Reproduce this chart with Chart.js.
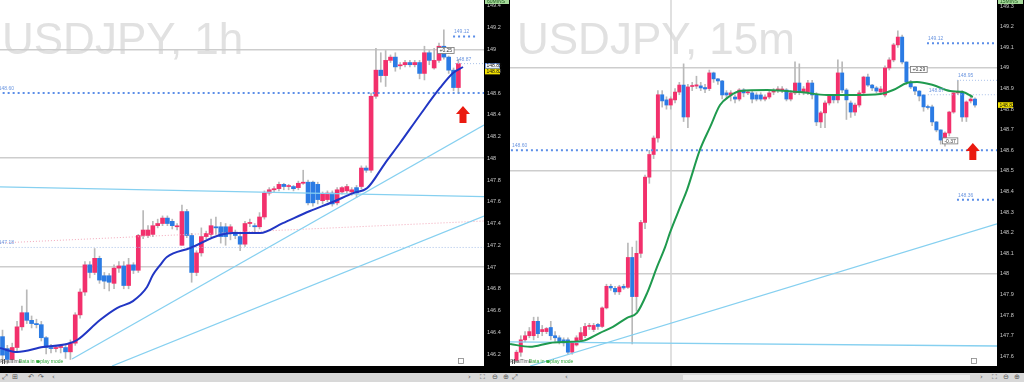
<!DOCTYPE html>
<html>
<head>
<meta charset="utf-8">
<script src="https://cdn.jsdelivr.net/npm/chart.js@4.4.1/dist/chart.umd.min.js"></script>
<style>
  html, body { margin: 0; padding: 0; background: #fff; }
  body { width: 1024px; height: 382px; position: relative; overflow: hidden; font-family: "Liberation Sans", Arial, sans-serif; }
  canvas { position: absolute; top: 0; }
  #h1 { left: 0; }
  #m15 { left: 510px; }
  #toolbar { position: absolute; left: 0; top: 373px; width: 1024px; height: 9px; background: #d8d8d8; }
  #toolbar span { position: absolute; top: 0; font: 7px/9px "DejaVu Sans", sans-serif; color: #555; }
  #thumb { position: absolute; top: 2px; left: 683px; width: 287px; height: 5px; background: #eeeeee; }
</style>
</head>
<body>
<canvas id="h1" width="510" height="373" style="width:510px;height:373px"></canvas>
<canvas id="m15" width="514" height="373" style="width:514px;height:373px"></canvas>
<div id="toolbar">
  <span style="left:2px">⤢</span><span style="left:12px">⊞</span><span style="left:28px">↶</span><span style="left:38px">↷</span><span style="left:52px">‹</span>
  <span style="left:468px">›</span><span style="left:480px">⛶</span><span style="left:492px">⊖</span><span style="left:503px">⊕</span>
  <span style="left:512px">⤢</span><span style="left:565px">‹</span><div id="thumb"></div>
  <span style="left:980px">›</span><span style="left:992px">⛶</span><span style="left:1003px">⊖</span><span style="left:1014px">⊕</span>
</div>
<script>
// USDJPY 1h candles (one per hour slot)
const h1Open  = [146.36,146.25,146.15,146.26,146.45,146.58,146.51,146.48,146.47,146.35,146.26,146.25,146.26,146.26,146.22,146.30,146.56,146.77,147.02,146.95,
                 147.08,146.92,146.92,146.85,146.99,147.01,146.83,147.02,146.97,147.29,147.29,147.30,147.38,147.40,147.45,147.42,147.37,147.20,147.51,147.29,
                 146.95,147.13,147.28,147.30,147.37,147.37,147.37,147.32,147.32,147.28,147.21,147.40,147.38,147.37,147.46,147.68,147.71,147.72,147.76,147.74,
                 147.74,147.73,147.77,147.78,147.78,147.76,147.61,147.62,147.68,147.59,147.69,147.70,147.69,147.73,147.74,147.91,147.89,148.57,148.81,148.76,
                 148.90,148.93,148.85,148.86,148.88,148.86,148.88,148.78,148.97,148.83,148.90,149.03,148.93,148.81,148.65];
const h1High  = [146.42,146.28,146.30,146.50,146.64,146.79,146.55,146.52,146.50,146.36,146.29,146.28,146.29,146.28,146.33,146.58,146.80,147.05,147.05,147.17,
                 147.10,146.95,146.94,147.02,147.05,147.05,147.08,147.04,147.30,147.52,147.38,147.42,147.44,147.47,147.47,147.44,147.40,147.57,147.53,147.31,
                 147.15,147.36,147.33,147.44,147.46,147.41,147.40,147.39,147.34,147.30,147.42,147.44,147.40,147.50,147.70,147.73,147.74,147.78,147.77,147.76,
                 147.75,147.79,147.89,147.80,147.79,147.78,147.69,147.70,147.70,147.73,147.74,147.76,147.73,147.75,147.93,147.93,148.60,149.01,148.97,148.99,
                 148.95,148.97,148.88,148.90,148.90,148.90,148.90,149.03,148.99,149.01,149.06,149.18,148.94,148.83,148.91];
const h1Low   = [146.14,146.11,146.12,146.22,146.42,146.48,146.44,146.44,146.32,146.20,146.21,146.22,146.21,146.16,146.15,146.28,146.53,146.74,146.90,146.93,
                 146.85,146.80,146.78,146.80,146.95,146.80,146.80,146.94,146.95,147.26,147.27,147.28,147.36,147.38,147.38,147.35,147.34,147.20,147.27,146.86,
                 146.92,147.10,147.26,147.28,147.30,147.22,147.20,147.25,147.26,147.15,147.19,147.37,147.32,147.35,147.44,147.66,147.69,147.70,147.71,147.71,
                 147.70,147.71,147.76,147.57,147.56,147.58,147.58,147.60,147.56,147.57,147.67,147.68,147.66,147.64,147.72,147.87,147.87,148.55,148.70,148.66,
                 148.88,148.80,148.82,148.84,148.84,148.84,148.73,148.72,148.86,148.82,148.88,148.91,148.78,148.62,148.60];
const h1Close = [146.19,146.15,146.26,146.45,146.58,146.51,146.48,146.47,146.35,146.26,146.25,146.26,146.26,146.22,146.30,146.56,146.77,147.02,146.95,147.08,
                 146.88,146.87,146.86,146.99,147.01,146.83,147.02,146.97,147.29,147.34,147.34,147.38,147.40,147.45,147.40,147.38,147.37,147.51,147.29,146.95,
                 147.13,147.28,147.31,147.38,147.36,147.28,147.28,147.37,147.29,147.21,147.40,147.41,147.37,147.46,147.68,147.71,147.72,147.76,147.74,147.74,
                 147.72,147.77,147.78,147.59,147.59,147.62,147.67,147.68,147.58,147.71,147.73,147.74,147.71,147.68,147.91,147.89,148.57,148.81,148.76,148.90,
                 148.93,148.84,148.85,148.88,148.86,148.88,148.78,148.97,148.90,148.90,149.03,148.93,148.81,148.65,148.87];
// blue average (slot, price)
const h1AvgSlot  = [-0.5, 3.0, 8.35, 13.3, 15.4, 20.1, 23.6, 26.9, 29.8, 31.0, 32.5, 33.9, 38.7, 44.8, 47.5, 53.1, 57.8, 63.4, 68.1, 72.3, 75.2, 78.9, 81.96, 86.08, 90.2, 92.89, 94.95];
const h1AvgPrice = [146.255, 146.218, 146.264, 146.292, 146.329, 146.513, 146.623, 146.687, 146.816, 146.926, 147.018, 147.092, 147.175, 147.294, 147.313, 147.313, 147.404, 147.515, 147.598, 147.680, 147.726, 147.956, 148.140, 148.398, 148.646, 148.784, 148.839];
const h1TrendA = [[-0.52, 147.736], [99.28, 147.648]];
const h1TrendB = [[14.33, 146.154], [99.28, 148.306]];
const h1TrendC = [[22.58, 146.090], [99.28, 147.469]];
const h1PinkLine = [[-0.52, 147.221], [99.28, 147.423]];
const h1LevelPrice = [148.60, 149.12, 148.87, 147.18];
const h1LevelFrom  = [-1.0, 92.9, 93.3, -1.0];
const h1LevelTo    = [99.3, 97.8, 99.3, 99.3];
const h1PriceTicks = [149.4, 149.2, 149, 148.8, 148.6, 148.4, 148.2, 148, 147.8, 147.6, 147.4, 147.2, 147, 146.8, 146.6, 146.4, 146.2];
const h1GridLevels = [149, 148, 147];
const h1TimeSlots  = [2.16, 6.08, 16.4, 26.3, 36.0, 40.1, 50.2, 53.7, 64.0, 74.1, 77.4, 87.9];
const h1TimeLabels = ['08:00 pm', '11', '10:00 am', '08:00 pm', '14', '10:00 am', '08:00 pm', '15', '10:00 am', '08:00 pm', '16', '10:00 am'];

// USDJPY 15m candles
const m15Open  = [147.58,147.62,147.68,147.70,147.70,147.77,147.72,147.72,147.74,147.70,147.69,147.68,147.68,147.62,147.655,147.68,147.70,147.745,147.73,147.755,
                  147.745,147.835,147.94,147.93,147.913,147.94,147.935,148.08,147.89,148.10,148.25,148.47,148.58,148.66,148.87,148.845,148.82,148.845,148.883,148.917,
                  148.762,148.91,148.912,148.913,148.905,148.90,148.976,148.947,148.937,148.879,148.869,148.859,148.849,148.893,148.879,148.879,148.869,148.869,148.849,148.859,
                  148.883,148.893,148.893,148.893,148.849,148.879,148.927,148.883,148.883,148.927,148.869,148.738,148.782,148.830,148.864,148.845,148.976,148.893,148.830,148.786,
                  148.820,148.879,148.956,148.917,148.903,148.883,148.869,149.000,149.039,149.112,149.150,149.029,148.932,148.908,148.888,148.869,148.811,148.811,148.738,148.699,
                  148.650,148.684,148.786,148.879,148.883,148.762,148.840,148.849];
const m15High  = [147.63,147.70,147.72,147.74,147.79,147.79,147.75,147.74,147.77,147.72,147.70,147.69,147.69,147.67,147.70,147.74,147.76,147.76,147.76,147.76,
                  147.84,147.95,147.95,147.94,147.945,147.95,148.15,148.13,148.16,148.26,148.48,148.60,148.67,148.89,148.89,148.86,148.86,148.90,148.93,149.02,
                  148.92,148.93,148.96,148.93,148.92,148.99,148.98,148.95,148.94,148.89,148.89,148.87,148.90,148.90,148.89,148.89,148.88,148.88,148.87,148.89,
                  148.90,148.91,148.91,148.90,148.89,149.03,149.02,148.91,148.94,148.94,148.88,148.79,148.84,148.87,148.87,149.04,149.03,148.90,148.84,148.83,
                  148.89,148.96,148.97,148.92,148.91,148.91,149.01,149.05,149.12,149.18,149.16,149.03,148.94,148.91,148.89,148.87,148.82,148.82,148.74,148.70,
                  148.69,148.79,148.88,148.94,148.89,148.84,148.87,148.855];
const m15Low   = [147.57,147.60,147.67,147.69,147.68,147.69,147.70,147.71,147.68,147.67,147.66,147.65,147.61,147.61,147.65,147.67,147.69,147.73,147.72,147.73,
                  147.74,147.83,147.92,147.90,147.90,147.925,147.93,147.66,147.82,148.08,148.22,148.44,148.56,148.64,148.81,148.80,148.80,148.83,148.87,148.74,
                  148.71,148.89,148.90,148.89,148.88,148.89,148.93,148.92,148.85,148.85,148.84,148.83,148.84,148.86,148.87,148.83,148.84,148.84,148.84,148.85,
                  148.87,148.88,148.88,148.84,148.84,148.87,148.87,148.87,148.87,148.85,148.72,148.71,148.71,148.82,148.83,148.83,148.88,148.75,148.76,148.77,
                  148.81,148.87,148.91,148.89,148.88,148.87,148.86,148.99,149.03,149.10,149.02,148.92,148.90,148.87,148.84,148.79,148.80,148.72,148.69,148.63,
                  148.62,148.67,148.78,148.87,148.74,148.74,148.83,148.81];
const m15Close = [147.62,147.68,147.70,147.72,147.77,147.71,147.73,147.735,147.70,147.69,147.67,147.665,147.62,147.665,147.69,147.715,147.745,147.75,147.75,147.745,
                  147.835,147.94,147.932,147.913,147.937,147.932,148.08,147.89,148.10,148.25,148.47,148.58,148.66,148.87,148.84,148.82,148.85,148.883,148.917,148.762,
                  148.908,148.915,148.918,148.903,148.898,148.976,148.947,148.937,148.869,148.869,148.879,148.849,148.893,148.879,148.883,148.849,148.849,148.849,148.859,148.879,
                  148.884,148.898,148.898,148.849,148.879,148.927,148.883,148.898,148.927,148.869,148.738,148.782,148.830,148.864,148.845,148.976,148.893,148.845,148.786,148.820,
                  148.879,148.956,148.917,148.903,148.888,148.898,149.000,149.039,149.112,149.150,149.029,148.932,148.908,148.888,148.864,148.811,148.808,148.738,148.699,148.650,
                  148.684,148.786,148.879,148.883,148.762,148.835,148.849,148.820];
// green average (slot, price)
const m15AvgSlot  = [-1.5, 3.15, 7.8, 11.8, 15.5, 19.5, 22.5, 25.8, 28.1, 30.5, 32.8, 34.7, 35.8, 38.2, 39.8, 42.8, 45.2, 47.5, 49.8, 52.2, 58.5, 66.2, 72.5, 78.6, 84.9, 87.9, 91.1, 93.5, 97.2, 101.2, 104.2, 106.5];
const m15AvgPrice = [147.660, 147.646, 147.665, 147.670, 147.675, 147.714, 147.743, 147.787, 147.811, 147.908, 148.034, 148.131, 148.199, 148.325, 148.408, 148.602, 148.714, 148.820, 148.864, 148.888, 148.893, 148.883, 148.869, 148.869, 148.874, 148.893, 148.927, 148.932, 148.917, 148.888, 148.883, 148.859];
const m15TrendA = [[-1.52, 147.670], [112.14, 147.650]];
const m15TrendB = [[3.2, 147.553], [112.14, 148.243]];
const m15DayLine = 36.06;
const m15LevelPrice = [148.60, 149.12, 148.36, 148.94, 148.87];
const m15LevelText  = ['148.60', '149.12', '148.36', '148.95', '148.87'];
const m15LevelFrom  = [-1.3, 95.8, 102.8, 102.8, 96.0];
const m15LevelTo    = [112.2, 112.2, 112.2, 112.2, 112.2];
const m15PriceTicks = [149.3, 149.2, 149.1, 149, 148.9, 148.8, 148.7, 148.6, 148.5, 148.4, 148.3, 148.2, 148.1, 148, 147.9, 147.8, 147.7, 147.6];
const m15GridLevels = [149, 148.5, 148];
const m15TimeSlots  = [8.05, 16.22, 24.15, 32.09, 36.06, 40.03, 47.96, 55.9, 63.83, 71.76, 79.7, 87.86, 95.8, 103.73];
const m15TimeLabels = ['05:00 pm', '07:00 pm', '09:00 pm', '11:00 pm', '16', '01:00 am', '03:00 am', '05:00 am', '07:00 am', '09:00 am', '11:00 am', '01:00 pm', '03:00 pm', '05:00 pm'];

const UP = '#f2306c', DOWN = '#2b7be4', WICK = '#b9b9b9';
const FONT = '"Liberation Sans", Arial, sans-serif';

function candleSets(open, high, low, close, body) {
  const colors = open.map((o, i) => close[i] >= o ? UP : DOWN);
  return [
    { type: 'bar', data: open.map((o, i) => ({ x: i, y: [o, close[i]] })), backgroundColor: colors,
      barThickness: body, minBarLength: 1, grouped: false, order: 2 },
    { type: 'bar', data: open.map((o, i) => ({ x: i, y: [low[i], high[i]] })), backgroundColor: WICK,
      barThickness: 1, minBarLength: 1, grouped: false, order: 3 }
  ];
}

function seg(points, color, width, dash, order) {
  return { type: 'line', data: points.map(p => ({ x: p[0], y: p[1] })), borderColor: color, borderWidth: width,
           borderDash: dash || [], pointRadius: 0, fill: false, order: order === undefined ? 1 : order, clip: 0 };
}

function avgLine(slots, prices, color) {
  const s = seg(slots.map((v, i) => [v, prices[i]]), color, 2, [], 0);
  s.cubicInterpolationMode = 'monotone';
  return s;
}

function drawBox(ctx, cx, cy, text) {
  ctx.font = '5px ' + FONT;
  const w = ctx.measureText(text).width + 4;
  ctx.fillStyle = '#fff';
  ctx.fillRect(cx - w / 2, cy - 3, w, 6);
  ctx.strokeStyle = '#777';
  ctx.lineWidth = 0.8;
  ctx.strokeRect(cx - w / 2, cy - 3, w, 6);
  ctx.fillStyle = '#333';
  ctx.textAlign = 'center';
  ctx.textBaseline = 'middle';
  ctx.fillText(text, cx, cy + 0.3);
}

const decor = {
  id: 'decor',
  beforeDraw(chart, args, o) {
    const { ctx, chartArea: a, width, height } = chart;
    ctx.save();
    ctx.fillStyle = '#fff';
    ctx.fillRect(0, 0, width, height);
    ctx.fillStyle = '#000';
    ctx.fillRect(a.right, 0, width - a.right, height);
    ctx.fillRect(0, a.bottom, width, height - a.bottom);
    ctx.font = '44px ' + FONT;
    ctx.fillStyle = '#e1e1e1';
    ctx.textBaseline = 'alphabetic';
    ctx.fillText(o.title, a.left + o.titleLeft, 54);
    ctx.restore();
  },
  afterDatasetsDraw(chart, args, o) {
    const { ctx, chartArea: a, scales: { x, y } } = chart;
    ctx.save();
    ctx.beginPath();
    ctx.rect(a.left, a.top, a.right - a.left, a.bottom - a.top);
    ctx.clip();
    // level captions
    ctx.font = '5px ' + FONT;
    ctx.textAlign = 'left';
    ctx.textBaseline = 'bottom';
    o.levels.price.forEach((p, i) => {
      ctx.fillStyle = '#6d97e0';
      ctx.fillText(o.levels.text[i], x.getPixelForValue(o.levels.from[i]) + 1, y.getPixelForValue(p) - 2);
    });
    o.notes.forEach(n => drawBox(ctx, x.getPixelForValue(n.x), y.getPixelForValue(n.v), n.text));
    // red arrow
    const px = x.getPixelForValue(o.arrow.x), py = y.getPixelForValue(o.arrow.v);
    ctx.fillStyle = '#ea1a10';
    ctx.beginPath();
    ctx.moveTo(px, py);
    ctx.lineTo(px + 7, py + 8);
    ctx.lineTo(px + 3.5, py + 8);
    ctx.lineTo(px + 3.5, py + 17);
    ctx.lineTo(px - 3.5, py + 17);
    ctx.lineTo(px - 3.5, py + 8);
    ctx.lineTo(px - 7, py + 8);
    ctx.closePath();
    ctx.fill();
    // footer
    ctx.font = '5px ' + FONT;
    ctx.textBaseline = 'middle';
    ctx.fillStyle = '#555';
    ctx.fillRect(a.left + 2, a.bottom - 6, 1, 4);
    ctx.fillRect(a.left + 4, a.bottom - 7, 1, 5);
    ctx.fillText('ProRealTime', a.left + 7, a.bottom - 4.5);
    ctx.fillStyle = '#2fa83a';
    ctx.beginPath();
    ctx.arc(a.left + 38, a.bottom - 4.5, 1.6, 0, Math.PI * 2);
    ctx.fill();
    ctx.fillText('Data in replay mode', a.left + 41, a.bottom - 4.5);
    ctx.strokeStyle = '#888';
    ctx.lineWidth = 0.8;
    ctx.strokeRect(a.right - 25.5, a.bottom - 7.5, 5, 5);
    ctx.restore();
  },
  afterDraw(chart, args, o) {
    const { ctx, chartArea: a, width, scales: { y } } = chart;
    ctx.save();
    ctx.font = '5px ' + FONT;
    ctx.textBaseline = 'middle';
    ctx.textAlign = 'left';
    ctx.fillStyle = '#a6d99a';
    ctx.fillRect(a.right + 1, 0, width - a.right - 2, 4);
    ctx.fillStyle = '#1d5a1d';
    ctx.fillText(o.axisTag, a.right + 3, 2);
    o.tags.forEach(t => {
      const ty = y.getPixelForValue(t.v) + t.dy;
      ctx.fillStyle = t.bg;
      ctx.fillRect(a.right + 1, ty - 2.8, 15, 5.6);
      if (t.border) {
        ctx.strokeStyle = t.border;
        ctx.lineWidth = 0.7;
        ctx.strokeRect(a.right + 1.5, ty - 2.4, 14, 4.8);
      }
      ctx.fillStyle = '#111';
      ctx.fillText(t.text, a.right + 2.5, ty + 0.2);
    });
    ctx.restore();
  }
};

function buildChart(id, cfg) {
  const levelSets = cfg.levels.price.map((p, i) =>
    seg([[cfg.levels.from[i], p], [cfg.levels.to[i], p]], cfg.levels.color[i], cfg.levels.width[i], cfg.levels.dash[i]));
  return new Chart(document.getElementById(id), {
    type: 'bar',
    data: { datasets: [...cfg.extra, ...levelSets, ...candleSets(cfg.open, cfg.high, cfg.low, cfg.close, cfg.body)] },
    options: {
      responsive: false, animation: false, devicePixelRatio: 1, events: [],
      layout: { padding: 0 },
      plugins: { legend: { display: false }, tooltip: { enabled: false },
        decor: { title: cfg.title, titleLeft: cfg.titleLeft, axisTag: cfg.axisTag, tags: cfg.tags, notes: cfg.notes,
                 arrow: cfg.arrow, levels: cfg.levels } },
      scales: {
        x: {
          type: 'linear', min: cfg.xMin, max: cfg.xMax, offset: false,
          grid: { display: false }, border: { display: false },
          afterBuildTicks: s => { s.ticks = cfg.timeSlots.map(v => ({ value: v })); },
          afterFit: s => { s.height = 7; s.paddingLeft = 0; s.paddingRight = 0; },
          ticks: { autoSkip: false, maxRotation: 0, minRotation: 0, padding: 0, color: '#e6e6e6',
                   font: { size: 5.5, family: FONT }, callback: (v, i) => cfg.timeLabels[i] }
        },
        y: {
          type: 'linear', position: 'right', min: cfg.yMin, max: cfg.yMax,
          border: { display: false },
          grid: { drawTicks: false, lineWidth: 1.6,
                  color: c => (c.tick && cfg.gridLevels.includes(c.tick.value)) ? '#cdcdcd' : 'rgba(0,0,0,0)' },
          afterBuildTicks: s => { s.ticks = cfg.priceTicks.map(v => ({ value: v })); },
          afterFit: s => { s.width = cfg.axisWidth; s.paddingTop = 0; s.paddingBottom = 0; },
          ticks: { padding: 3, color: '#c8c8c8', font: { size: 5.5, family: FONT },
                   callback: v => String(+v.toFixed(2)) }
        }
      }
    },
    plugins: [decor]
  });
}

const MAIN_DOT = '#5b8ee8', LIGHT_DOT = '#a9c0e8', TREND = '#86d0f0';

buildChart('h1', {
  title: 'USDJPY, 1h', titleLeft: 2, axisTag: '60MINS', axisWidth: 26, body: 4,
  open: h1Open, high: h1High, low: h1Low, close: h1Close,
  xMin: -0.515, xMax: 99.28, yMin: 146.09, yMax: 149.455,
  priceTicks: h1PriceTicks, gridLevels: h1GridLevels, timeSlots: h1TimeSlots, timeLabels: h1TimeLabels,
  extra: [
    avgLine(h1AvgSlot, h1AvgPrice, '#2136c4'),
    seg(h1TrendA, TREND, 1.3), seg(h1TrendB, TREND, 1.3), seg(h1TrendC, TREND, 1.3),
    seg(h1PinkLine, '#f3a9bb', 1, [1, 2])
  ],
  levels: { price: h1LevelPrice, from: h1LevelFrom, to: h1LevelTo,
            text: h1LevelPrice.map(p => p.toFixed(2)),
            color: [MAIN_DOT, MAIN_DOT, LIGHT_DOT, LIGHT_DOT], width: [2, 2, 1, 1], dash: [[2, 3], [2, 3], [1, 2], [1, 2]] },
  tags: [{ v: 148.85, dy: 0, text: '148.85', bg: '#fff', border: '#3a6fd8' },
         { v: 148.82, dy: 2.5, text: '148.82', bg: '#f4e200' }],
  notes: [{ x: 91.4, v: 148.99, text: '+0.25' }],
  arrow: { x: 94.95, v: 148.48 }
});

buildChart('m15', {
  title: 'USDJPY, 15m', titleLeft: 7, axisTag: '15MINS', axisWidth: 27, body: 3.3,
  open: m15Open, high: m15High, low: m15Low, close: m15Close,
  xMin: -1.517, xMax: 112.14, yMin: 147.553, yMax: 149.33,
  priceTicks: m15PriceTicks, gridLevels: m15GridLevels, timeSlots: m15TimeSlots, timeLabels: m15TimeLabels,
  extra: [
    avgLine(m15AvgSlot, m15AvgPrice, '#1f9a4e'),
    seg([[m15DayLine, 147.4], [m15DayLine, 149.5]], '#d6d6d6', 1.5, [], 4),
    seg(m15TrendA, TREND, 1.3), seg(m15TrendB, TREND, 1.3)
  ],
  levels: { price: m15LevelPrice, from: m15LevelFrom, to: m15LevelTo, text: m15LevelText,
            color: [MAIN_DOT, MAIN_DOT, MAIN_DOT, LIGHT_DOT, LIGHT_DOT], width: [2, 2, 2, 1, 1],
            dash: [[2, 3], [2, 3], [2, 3], [1, 2], [1, 2]] },
  tags: [{ v: 148.82, dy: 0, text: '148.82', bg: '#f4e200' }],
  notes: [{ x: 93.9, v: 148.993, text: '+0.29' }, { x: 101.2, v: 148.646, text: '-0.37' }],
  arrow: { x: 106.5, v: 148.636 }
});
</script>
</body>
</html>
